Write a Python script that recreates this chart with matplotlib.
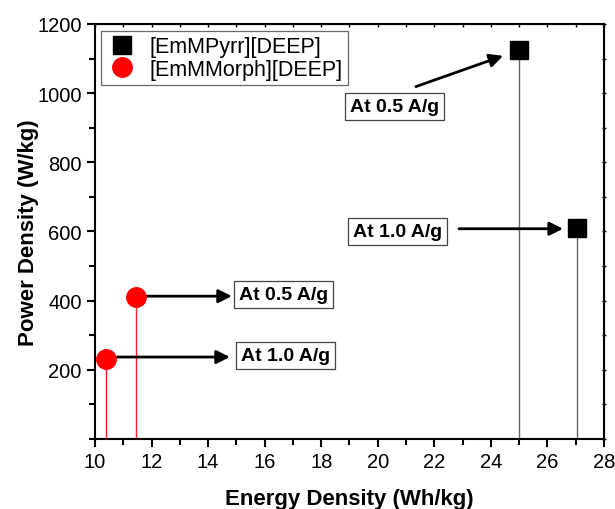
import matplotlib
matplotlib.use('Agg')
import matplotlib.pyplot as plt
from matplotlib.ticker import MultipleLocator

plt.rcParams['font.family'] = ['Liberation Sans', 'DejaVu Sans']

# data
pyrr_energy = [25.0, 27.05]
pyrr_power = [1125, 609]
morph_energy = [10.39, 11.45]
morph_power = [232, 412]
labels_pyrr = ['At 0.5 A/g', 'At 1.0 A/g']
labels_morph = ['At 0.5 A/g', 'At 1.0 A/g']

fig = plt.figure(figsize=(6.15, 5.1), dpi=100)
ax = fig.add_axes([95 / 615, 1 - 440 / 510, 509 / 615, 415 / 510])

# drop lines
ax.vlines(pyrr_energy, 0, pyrr_power, color='#666666', lw=1)
ax.vlines(morph_energy, 0, morph_power, color='#ff2020', lw=1)

ax.plot(pyrr_energy, pyrr_power, 's', color='black', ms=13, label='[EmMPyrr][DEEP]', zorder=5)
ax.plot(morph_energy, morph_power, 'o', color='#ff0000', ms=14, label='[EmMMorph][DEEP]', zorder=5)

ax.set_xlim(10, 28)
ax.set_ylim(0, 1200)
ax.xaxis.set_major_locator(MultipleLocator(2))
ax.xaxis.set_minor_locator(MultipleLocator(1))
ax.set_yticks([200, 400, 600, 800, 1000, 1200])
ax.yaxis.set_minor_locator(MultipleLocator(100))

ax.tick_params(which='major', direction='out', length=6, width=1.5, labelsize=14.5, top=False, right=False)
ax.tick_params(which='minor', direction='out', length=4, width=1.5, top=False, right=False)
for s in ax.spines.values():
    s.set_linewidth(1.5)

# tiny inner ticks on top and right spines
ax_top = ax.secondary_xaxis('top')
ax_top.xaxis.set_major_locator(MultipleLocator(1))
ax_top.tick_params(direction='in', length=2, width=1, labeltop=False)
ax_right = ax.secondary_yaxis('right')
ax_right.yaxis.set_major_locator(MultipleLocator(100))
ax_right.tick_params(direction='inout', length=3, width=1, labelright=False)

ax.set_xlabel('Energy Density (Wh/kg)', fontsize=16, fontweight='bold', labelpad=12)
ax.set_ylabel('Power Density (W/kg)', fontsize=16, fontweight='bold', labelpad=-1)

box = dict(boxstyle='square,pad=0.25', fc='white', ec='#444444', lw=0.9)
arrow = dict(arrowstyle='-|>', lw=2, color='black', mutation_scale=20, shrinkA=0, shrinkB=0)
afs = 14

# annotations for [EmMPyrr][DEEP]
ax.annotate('', xy=(24.43, 1108), xytext=(21.35, 1019), arrowprops=arrow)
ax.text(20.59, 961, labels_pyrr[0], ha='center', va='center', fontsize=afs, fontweight='bold', bbox=box)
ax.annotate('', xy=(26.55, 608), xytext=(22.87, 608), arrowprops=arrow)
ax.text(20.70, 599, labels_pyrr[1], ha='center', va='center', fontsize=afs, fontweight='bold', bbox=box)

# annotations for [EmMMorph][DEEP]
ax.annotate('', xy=(14.84, 413), xytext=(11.84, 413), arrowprops=arrow)
ax.text(16.68, 417, labels_morph[0], ha='center', va='center', fontsize=afs, fontweight='bold', bbox=box)
ax.annotate('', xy=(14.77, 237), xytext=(10.78, 237), arrowprops=arrow)
ax.text(16.75, 242, labels_morph[1], ha='center', va='center', fontsize=afs, fontweight='bold', bbox=box)

leg = ax.legend(loc='upper left', bbox_to_anchor=(0.0115, 0.983), fontsize=15.5, frameon=True, fancybox=False,
                edgecolor='#444444', handletextpad=0.5, borderpad=0.25, labelspacing=0.05, handlelength=1.5,
                borderaxespad=0)
leg.get_frame().set_linewidth(0.9)

fig.savefig('out.png', dpi=100)
